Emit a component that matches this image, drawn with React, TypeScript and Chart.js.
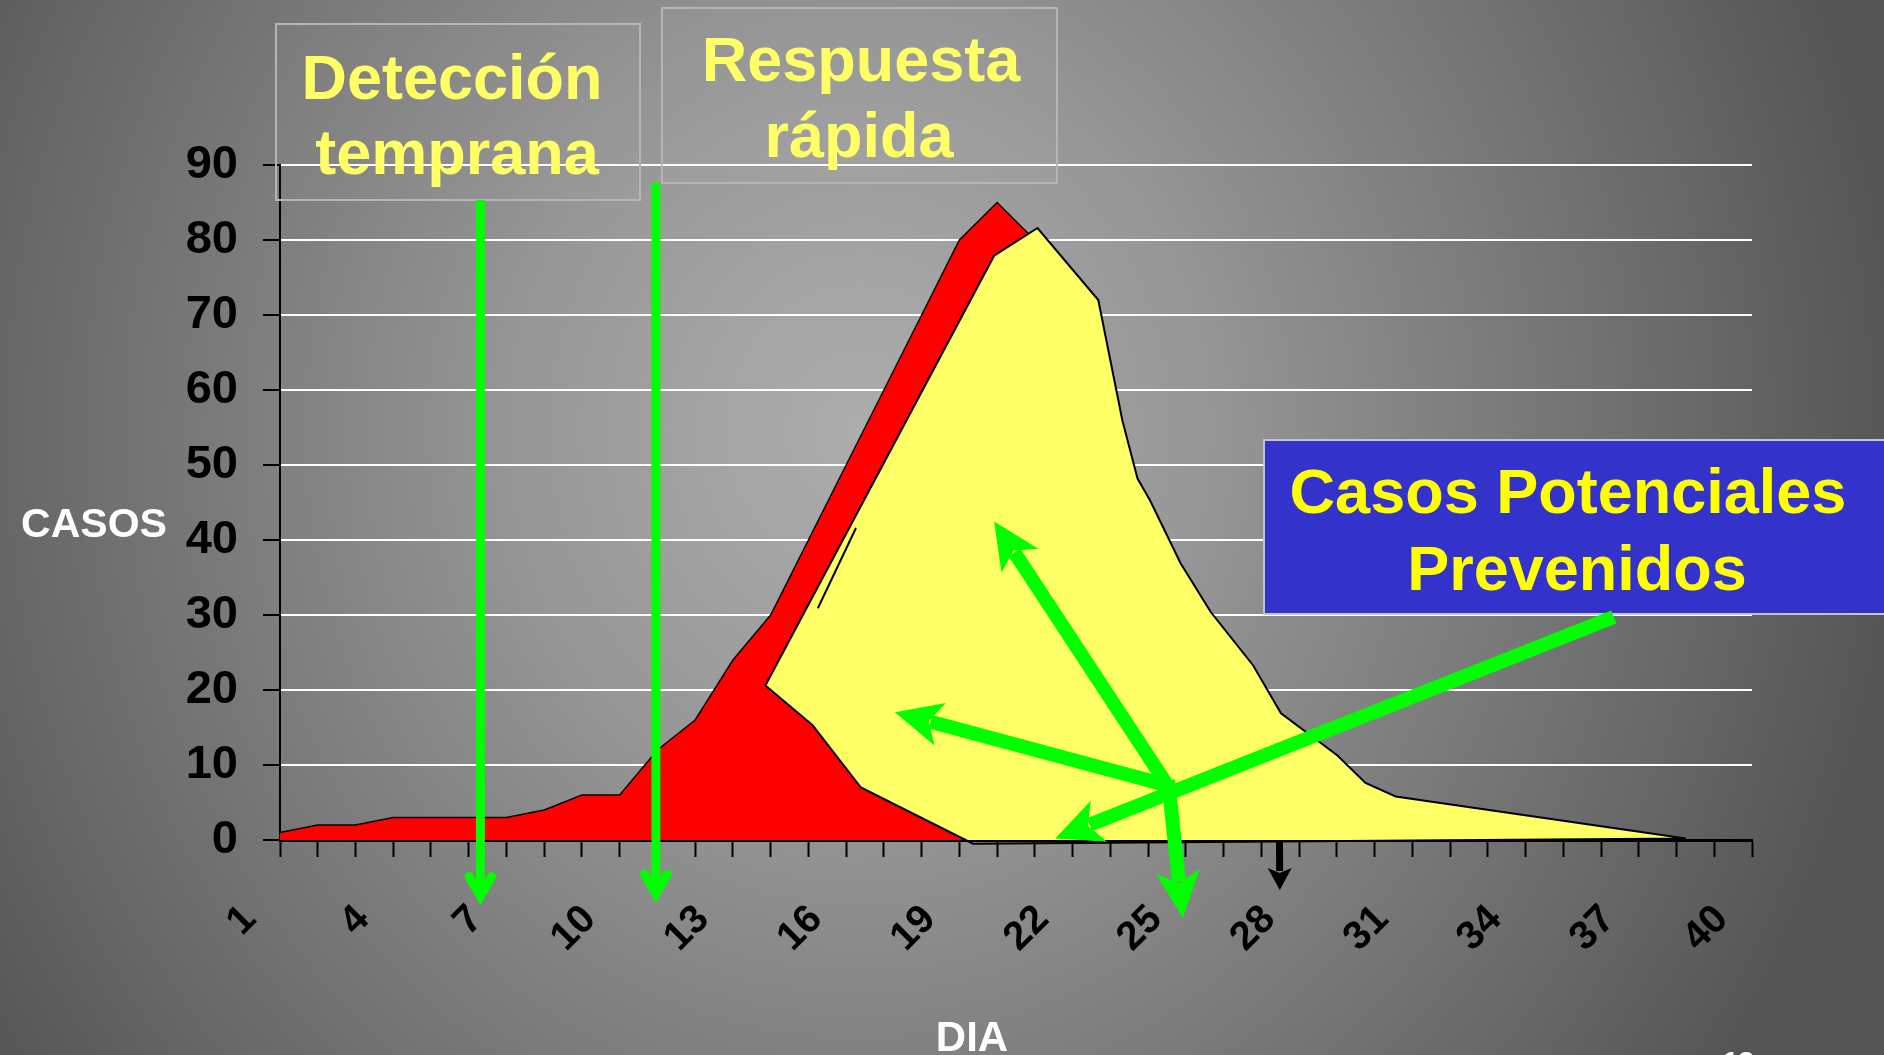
import React, { useEffect, useRef } from 'react';
import { Chart, registerables } from 'chart.js';

Chart.register(...registerables);

// ---------- DATA ----------
// Reported cases per day (red area)
const reportedDays = [1, 2, 3, 4, 5, 6, 7, 8, 9, 10, 11, 12, 13, 14, 15, 16, 17, 18, 19, 20, 21, 22];
const reportedCases = [1, 2, 2, 3, 3, 3, 3, 4, 6, 6, 12, 16, 24, 30, 40, 50, 60, 70, 80, 85, 80, 0];

// Outline of the "prevented cases" shape (yellow area), in day / case units
const preventedDays = [13.86, 19.92, 21.07, 22.68, 23.32, 23.72, 24.05, 24.86, 25.66, 26.78, 27.52, 29.01, 29.76, 30.56, 38.25, 19.36, 16.39, 15.11, 13.86];
const preventedCases = [20.6, 77.9, 81.6, 72.0, 55.9, 48.2, 45.3, 36.9, 30.4, 23.3, 16.9, 11.3, 7.6, 5.8, 0.2, -0.5, 7.0, 15.3, 20.6];

// Short stray segment inside the yellow shape
const strayDays = [15.25, 16.26];
const strayCases = [30.9, 41.6];

// Axis tick labels
const xTickLabels = ['1', '4', '7', '10', '13', '16', '19', '22', '25', '28', '31', '34', '37', '40'];
const yTickValues = [0, 10, 20, 30, 40, 50, 60, 70, 80, 90];

// ---------- ANNOTATIONS (day / case coordinates) ----------
const openArrows = [
  { from: [6.31, 85.33], to: [6.31, -7.47] },
  { from: [10.96, 87.6], to: [10.96, -7.16] },
];
const thickArrows = [
  { from: [24.47, 7.6], to: [19.92, 42.47] },
  { from: [24.47, 7.33], to: [17.29, 17.05] },
  { from: [24.53, 8.0], to: [24.92, -10.4] },
  { from: [36.34, 29.73], to: [21.54, 0.2] },
];
const blackArrow = { from: [27.48, -0.13], to: [27.49, -6.67] };

const FONT = "'Liberation Sans', Arial, Helvetica, sans-serif";

const textBoxes = [
  { x: 276, y: 24, w: 364, h: 176, fill: 'rgba(255,255,255,0.03)', stroke: '#b5b5b5', color: '#ffff66',
    lines: [{ t: 'Detección', cx: 452, by: 99 }, { t: 'temprana', cx: 457, by: 174 }] },
  { x: 662, y: 8, w: 395, h: 175, fill: 'rgba(255,255,255,0.03)', stroke: '#b5b5b5', color: '#ffff66',
    lines: [{ t: 'Respuesta', cx: 861, by: 81 }, { t: 'rápida', cx: 859, by: 157 }] },
  { x: 1264, y: 440, w: 640, h: 174, fill: '#3333cc', stroke: '#c4c4c4', color: '#ffff00',
    lines: [{ t: 'Casos Potenciales', cx: 1568, by: 513 }, { t: 'Prevenidos', cx: 1577, by: 590 }] },
];

function drawOpenArrow(ctx: CanvasRenderingContext2D, x1: number, y1: number, x2: number, y2: number) {
  const ang = Math.atan2(y2 - y1, x2 - x1);
  const ux = Math.cos(ang), uy = Math.sin(ang);
  const nx = -uy, ny = ux;
  const L = 19.5, H = 11.3;
  ctx.save();
  ctx.strokeStyle = '#00ff00';
  ctx.lineWidth = 9;
  ctx.lineCap = 'butt';
  ctx.beginPath();
  ctx.moveTo(x1, y1);
  ctx.lineTo(x2 - ux * 4, y2 - uy * 4);
  ctx.stroke();
  const bx = x2 - ux * L, by = y2 - uy * L;
  ctx.lineCap = 'round';
  ctx.lineJoin = 'miter';
  ctx.miterLimit = 10;
  ctx.beginPath();
  ctx.moveTo(bx + nx * H, by + ny * H);
  ctx.lineTo(x2, y2);
  ctx.lineTo(bx - nx * H, by - ny * H);
  ctx.stroke();
  ctx.restore();
}

function drawStealthArrow(ctx: CanvasRenderingContext2D, x1: number, y1: number, x2: number, y2: number,
  color: string, width: number, L: number, H: number, notch: number) {
  const ang = Math.atan2(y2 - y1, x2 - x1);
  const ux = Math.cos(ang), uy = Math.sin(ang);
  const nx = -uy, ny = ux;
  ctx.save();
  ctx.strokeStyle = color;
  ctx.fillStyle = color;
  ctx.lineWidth = width;
  ctx.lineCap = 'butt';
  ctx.beginPath();
  ctx.moveTo(x1, y1);
  ctx.lineTo(x2 - ux * (L - notch + 2), y2 - uy * (L - notch + 2));
  ctx.stroke();
  const bx = x2 - ux * L, by = y2 - uy * L;
  ctx.beginPath();
  ctx.moveTo(x2, y2);
  ctx.lineTo(bx + nx * H, by + ny * H);
  ctx.lineTo(x2 - ux * (L - notch), y2 - uy * (L - notch));
  ctx.lineTo(bx - nx * H, by - ny * H);
  ctx.closePath();
  ctx.fill();
  ctx.restore();
}

const annotationPlugin = {
  id: 'slideAnnotations',
  afterDatasetsDraw(chart: any) {
    const ctx: CanvasRenderingContext2D = chart.ctx;
    const xs = chart.scales.x, ys = chart.scales.y;
    const px = (d: number) => xs.getPixelForValue(d);
    const py = (v: number) => ys.getPixelForValue(v);

    // text boxes
    textBoxes.forEach((b) => {
      ctx.save();
      ctx.fillStyle = b.fill;
      ctx.fillRect(b.x, b.y, b.w, b.h);
      ctx.strokeStyle = b.stroke;
      ctx.lineWidth = 2;
      ctx.strokeRect(b.x, b.y, b.w, b.h);
      ctx.fillStyle = b.color;
      ctx.font = `bold 63px ${FONT}`;
      ctx.textAlign = 'center';
      ctx.textBaseline = 'alphabetic';
      b.lines.forEach((l) => ctx.fillText(l.t, l.cx, l.by));
      ctx.restore();
    });

    // arrows
    openArrows.forEach((a) => drawOpenArrow(ctx, px(a.from[0]), py(a.from[1]), px(a.to[0]), py(a.to[1])));
    thickArrows.forEach((a) => drawStealthArrow(ctx, px(a.from[0]), py(a.from[1]), px(a.to[0]), py(a.to[1]), '#00ff00', 14, 47, 22, 12));
    drawStealthArrow(ctx, px(blackArrow.from[0]), py(blackArrow.from[1]), px(blackArrow.to[0]), py(blackArrow.to[1]), '#000000', 7, 22, 12, 5);

    // axis titles
    ctx.save();
    ctx.fillStyle = '#ffffff';
    ctx.font = `bold 41px ${FONT}`;
    ctx.textAlign = 'center';
    ctx.textBaseline = 'alphabetic';
    ctx.fillText('CASOS', 94, 537);
    ctx.font = `bold 42px ${FONT}`;
    ctx.fillText('DIA', 972, 1051);
    ctx.font = `bold 28px ${FONT}`;
    ctx.textAlign = 'left';
    ctx.fillText('13', 1723, 1071);
    ctx.restore();
  },
};

export default function App() {
  const canvasRef = useRef<HTMLCanvasElement | null>(null);

  useEffect(() => {
    const canvas = canvasRef.current;
    if (!canvas) return;
    const chart = new Chart(canvas, {
      type: 'line',
      data: {
        datasets: [
          {
            label: 'stray',
            data: strayDays.map((d, i) => ({ x: d, y: strayCases[i] })),
            borderColor: '#000000',
            borderWidth: 2,
            pointRadius: 0,
            fill: false,
            clip: false as any,
          },
          {
            label: 'Casos potenciales prevenidos',
            data: preventedDays.map((d, i) => ({ x: d, y: preventedCases[i] })),
            borderColor: '#000000',
            borderWidth: 2,
            backgroundColor: '#ffff66',
            pointRadius: 0,
            fill: 'shape' as any,
            tension: 0,
            clip: false as any,
          },
          {
            label: 'Casos',
            data: reportedDays.map((d, i) => ({ x: d, y: reportedCases[i] })),
            borderColor: '#000000',
            borderWidth: 1.5,
            backgroundColor: '#ff0000',
            pointRadius: 0,
            fill: 'origin',
            tension: 0,
            clip: false as any,
          },
        ],
      },
      options: {
        responsive: false,
        animation: false,
        devicePixelRatio: 1,
        layout: { padding: { left: 0, right: 132, top: 165, bottom: 0 } },
        plugins: { legend: { display: false }, tooltip: { enabled: false } },
        events: [],
        scales: {
          x: {
            type: 'linear',
            min: 1,
            max: 40,
            ticks: {
              stepSize: 1,
              autoSkip: false,
              minRotation: 45,
              maxRotation: 45,
              labelOffset: -30,
              padding: 39,
              color: '#000000',
              font: { family: FONT, size: 40, weight: 'bold' },
              callback: (v: any) => (xTickLabels.includes(String(v)) ? String(v) : ''),
            },
            grid: {
              drawOnChartArea: false,
              drawTicks: true,
              tickLength: 17,
              tickColor: '#000000',
              tickWidth: 2,
              color: '#000000',
            },
            border: { display: true, color: '#000000', width: 3 },
            afterFit: (s: any) => { s.height = 215; },
          },
          y: {
            type: 'linear',
            min: 0,
            max: 90,
            afterBuildTicks: (s: any) => { s.ticks = yTickValues.map((v) => ({ value: v })); },
            ticks: {
              padding: 25,
              color: '#000000',
              font: { family: FONT, size: 47, weight: 'bold' },
            },
            grid: {
              color: (c: any) => (c.tick && c.tick.value === 0 ? 'rgba(0,0,0,0)' : '#ffffff'),
              lineWidth: 2,
              tickColor: '#000000',
              tickLength: 17,
              tickWidth: 2,
            },
            border: { display: true, color: '#000000', width: 2 },
            afterFit: (s: any) => { s.width = 280; },
          },
        },
      } as any,
      plugins: [annotationPlugin],
    });
    return () => chart.destroy();
  }, []);

  return (
    <div
      style={{
        position: 'fixed',
        left: 0,
        top: 0,
        width: 1884,
        height: 1055,
        overflow: 'hidden',
        background: 'radial-gradient(ellipse 1050px 1150px at 860px 430px, #adadad 0%, #999999 30%, #777777 65%, #545454 100%)',
      }}
    >
      <canvas ref={canvasRef} width={1884} height={1055} style={{ display: 'block', width: 1884, height: 1055 }} />
    </div>
  );
}
